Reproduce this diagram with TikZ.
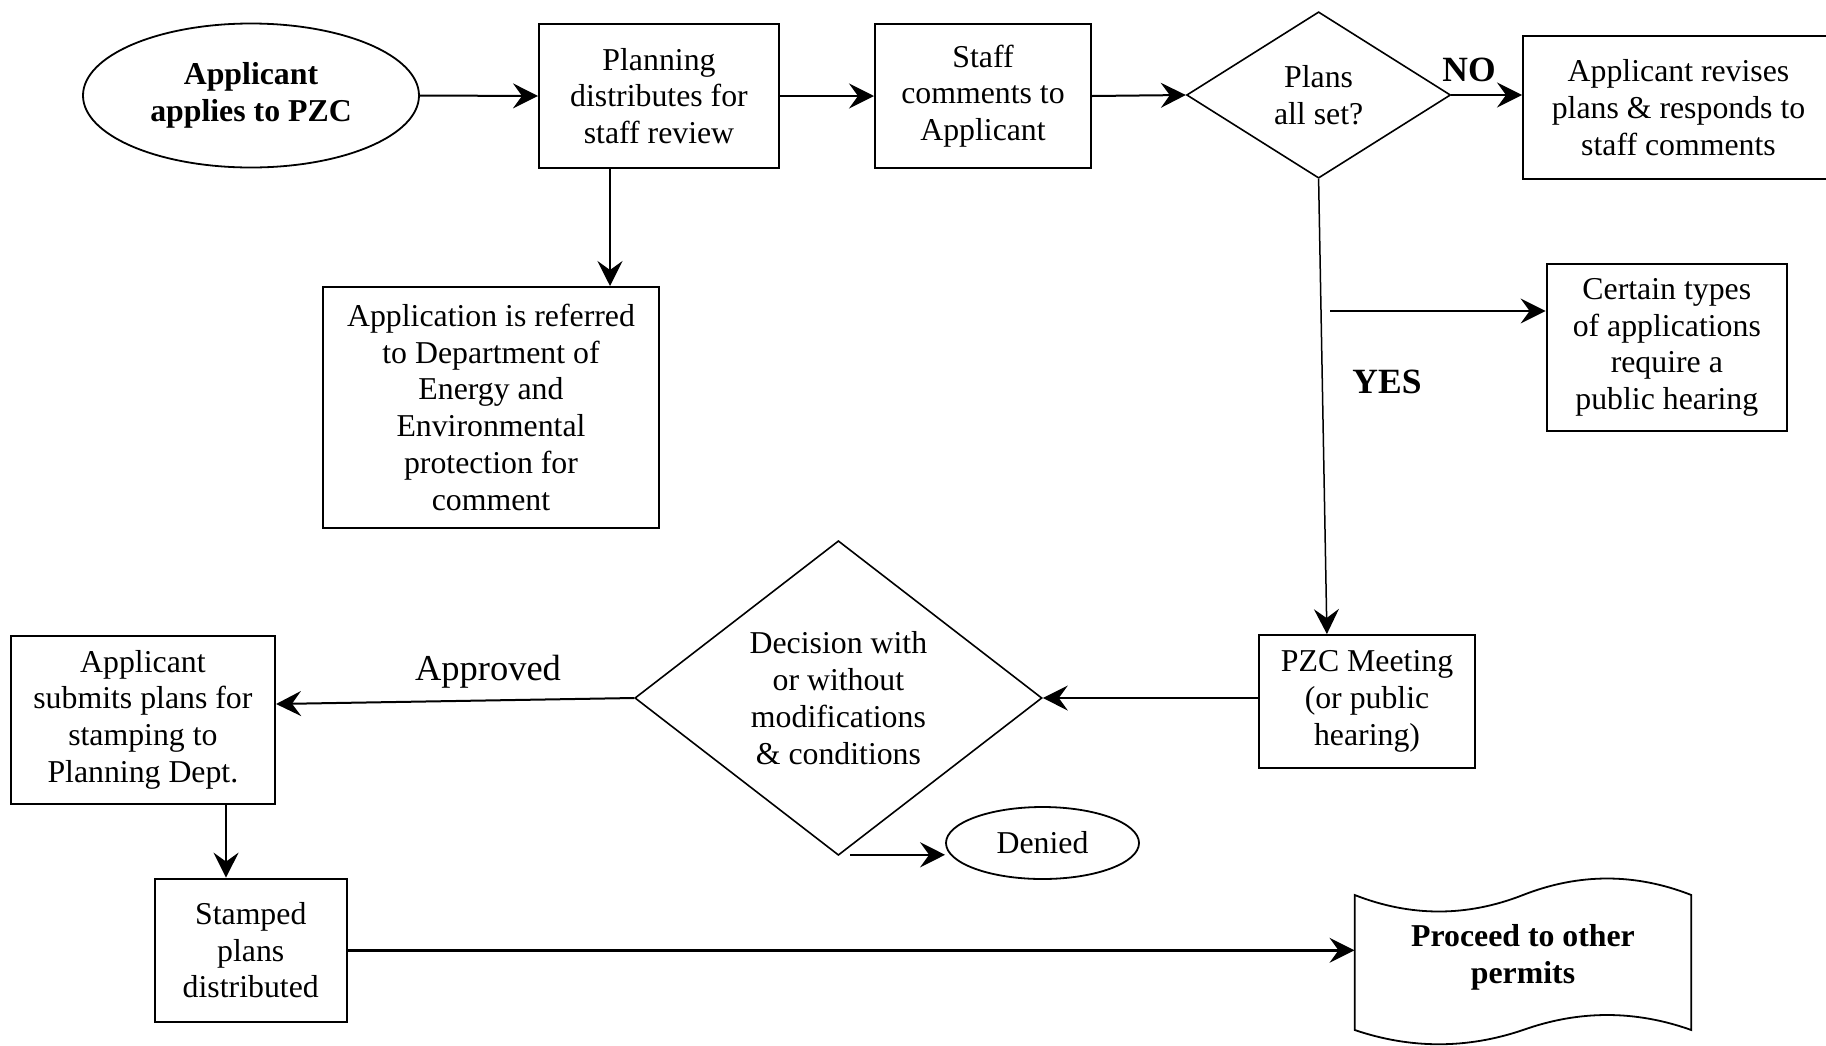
\documentclass[tikz,border=0pt]{standalone}
\usepackage{fontspec}
\setmainfont{Liberation Serif}
\usetikzlibrary{shapes.geometric,arrows.meta,calc}
\begin{document}
\begin{tikzpicture}[x=1pt,y=-1pt,
  txt/.style={font=\fontsize{31.8pt}{36.8pt}\selectfont, align=center, inner sep=0pt},
  boldtxt/.style={font=\fontsize{31.8pt}{36.8pt}\selectfont\bfseries, align=center, inner sep=0pt},
  box/.style={txt, draw, line width=2pt, rectangle},
  oval/.style={draw, line width=1.8pt, ellipse},
  dia/.style={txt, draw, line width=1.6pt, diamond},
  arr/.style={line width=2pt, -{Stealth[length=25pt,width=25pt,inset=9pt]}},
  thinarr/.style={arr, line width=1.5pt},
  lbl/.style={inner sep=0pt, font=\fontsize{35.5pt}{40pt}\selectfont\bfseries}
]
\useasboundingbox (0,0) rectangle (1826,1045);
\clip (0,0) rectangle (1826,1045);
\fill[white] (0,0) rectangle (1826,1045);

% nodes
\node[oval, boldtxt, minimum width=336pt, minimum height=144pt] (app) at (251,95.5) {Applicant\\applies to PZC};
\node[box, minimum width=240pt, minimum height=144pt] (planning) at (659,96) {Planning\\distributes for\\staff review};
\node[box, minimum width=216pt, minimum height=144pt] (staff) at (983,96) {Staff\\comments to\\Applicant};
\node[dia, aspect=1.587, minimum width=264pt, minimum height=166.4pt] (plans) at (1318.6,95) {Plans\\all set?};
\node[box, minimum width=311pt, minimum height=143.5pt] (revise) at (1678.5,107.5) {Applicant revises\\plans \& responds to\\staff comments};
\node[box, minimum width=240.4pt, minimum height=167.2pt] (certain) at (1666.8,347.4) {Certain types\\of applications\\require a\\public hearing};
\node[box, minimum width=336pt, minimum height=240.6pt] (refer) at (491,407.3) {Application is referred\\to Department of\\Energy and\\Environmental\\protection for\\comment};
\node[box, minimum width=216.2pt, minimum height=132.7pt] (pzc) at (1367,701.4) {PZC Meeting\\(or public\\hearing)};
\node[dia, aspect=1.294, minimum width=407.2pt, minimum height=314.6pt] (decision) at (838.4,698) {Decision with\\or without\\modifications\\\& conditions};
\node[box, minimum width=264.3pt, minimum height=168.5pt] (submit) at (142.9,719.75) {Applicant\\submits plans for\\stamping to\\Planning Dept.};
\node[box, minimum width=192pt, minimum height=143.4pt] (stamped) at (250.75,950.3) {Stamped\\plans\\distributed};
\node[oval, txt, minimum width=193pt, minimum height=72pt] (denied) at (1042.5,843) {Denied};
\node[boldtxt, minimum width=336.6pt, minimum height=135pt] (proceed) at (1523,957) {Proceed to other\\permits};
\draw[line width=1.8pt] (1354.7,895) .. controls (1410.8,917) and (1466.9,917) .. (1523,895)
  .. controls (1579.1,873) and (1635.2,873) .. (1691.3,895) -- (1691.3,1030)
  .. controls (1635.2,1010) and (1579.1,1010) .. (1523,1030)
  .. controls (1466.9,1049) and (1410.8,1049) .. (1354.7,1030) -- cycle;

% labels
\node[lbl] (no) at (1469,70) {NO};
\node[lbl] (yes) at (1387,382) {YES};
\node[inner sep=0pt, font=\fontsize{36.5pt}{40pt}\selectfont] (approved) at (488,672) {Approved};

% connectors
\draw[arr] (app.east) -- (planning.west);
\draw[arr] (planning.east) -- (staff.west);
\draw[arr] (staff.east) -- (plans.west);
\draw[arr] (plans.east) -- (plans.east -| revise.west);
\coordinate (pdown) at ($(planning.south west)+(72,0)$);
\draw[thinarr] (pdown) -- (pdown |- refer.north);
\draw[thinarr] (plans.south) -- ($(pzc.north west)+(69,0)$);
\coordinate (c1) at (1330,311);
\draw[arr] (c1) -- (c1 -| certain.west);
\draw[arr] (pzc.west |- decision.east) -- (decision.east);
\draw[arr] (decision.west) -- ($(submit.east)+(0,-15.75)$);
\coordinate (sdown) at ($(submit.south west)+(216.3,0)$);
\draw[thinarr] (sdown) -- (sdown |- stamped.north);
\draw[arr, line width=2.4pt] (stamped.east) -- (stamped.east -| proceed.west);
\coordinate (c2) at (850.4,854.8);
\draw[arr] (c2) -- (c2 -| denied.west);
\end{tikzpicture}
\end{document}
